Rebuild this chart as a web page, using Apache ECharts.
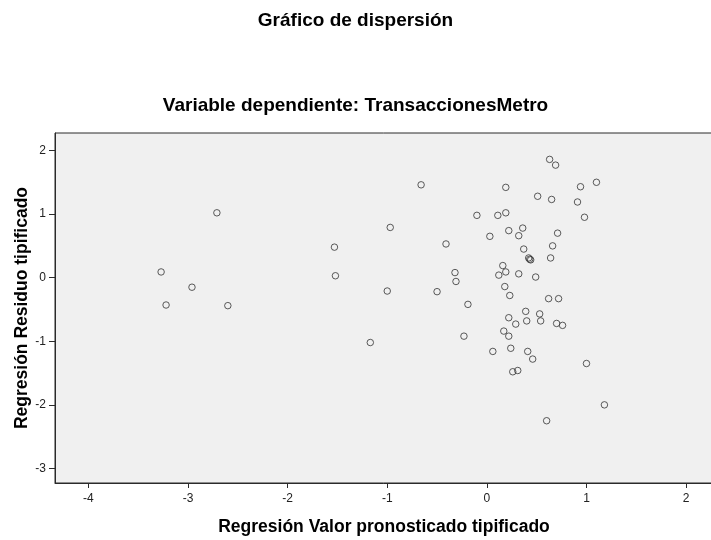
<!DOCTYPE html>
<html>
<head>
<meta charset="utf-8">
<script src="https://cdn.jsdelivr.net/npm/echarts@6/dist/echarts.min.js"></script>
<style>
  html, body { margin: 0; padding: 0; background: #ffffff; }
  #chart { width: 711px; height: 540px; }
</style>
</head>
<body>
<div id="chart"></div>
<script>
// Standardized predicted values (x) and standardized residuals (y), one entry per case
const predicted = [
  -2.71, -3.27, -3.22, -2.96, -2.60, -1.53, -1.52, -0.66, -0.97, -0.41,
  -1.00, -0.50, -0.32, -0.31, -0.19, -0.10, 0.03, 0.11, 0.19, 0.19,
  0.22, 0.36, 0.32, 0.37, 0.42, 0.44, 0.43, 0.16, 0.12, 0.19,
  0.32, 0.49, 0.18, 0.23, 0.63, 0.69, 0.51, 0.65, 0.94, 1.10,
  0.91, 0.98, 0.71, 0.66, 0.64, 0.62, 0.72, -1.17, -0.23, 0.06,
  0.22, 0.29, 0.39, 0.40, 0.53, 0.54, 0.70, 0.76, 0.17, 0.22,
  0.24, 0.41, 0.46, 0.26, 0.31, 1.00, 1.18, 0.60
];
const residual = [
  1.02, 0.09, -0.43, -0.15, -0.44, 0.48, 0.03, 1.46, 0.79, 0.53,
  -0.21, -0.22, 0.08, -0.06, -0.42, 0.98, 0.65, 0.98, 1.02, 1.42,
  0.74, 0.78, 0.66, 0.45, 0.31, 0.28, 0.29, 0.19, 0.04, 0.09,
  0.06, 0.01, -0.14, -0.28, 1.86, 1.77, 1.28, 1.23, 1.43, 1.50,
  1.19, 0.95, 0.70, 0.50, 0.31, -0.33, -0.33, -1.02, -0.92, -1.16,
  -0.63, -0.73, -0.53, -0.68, -0.57, -0.68, -0.72, -0.75, -0.84, -0.92,
  -1.11, -1.16, -1.28, -1.48, -1.46, -1.35, -2.00, -2.25
];
const xTicks = [-4, -3, -2, -1, 0, 1, 2];
const yTicks = [-3, -2, -1, 0, 1, 2];

const points = predicted.map((v, i) => [v, residual[i]]);

const FONT = "'Liberation Sans', Arial, sans-serif";
const chart = echarts.init(document.getElementById('chart'), null, { renderer: 'canvas' });

const axisCommon = {
  type: 'value',
  splitLine: { show: false },
  nameMoveOverlap: false,
  axisLine: { show: true, onZero: false, lineStyle: { color: '#2a2a2a', width: 1 } },
  axisTick: { show: true, inside: false, length: 5, lineStyle: { color: '#2a2a2a', width: 1 } },
  axisLabel: { color: '#222222', fontSize: 12, fontFamily: FONT },
  nameTextStyle: { color: '#000000', fontSize: 17.5, fontWeight: 'bold', fontFamily: FONT }
};

chart.setOption({
  animation: false,
  backgroundColor: '#ffffff',
  title: [
    {
      text: 'Gráfico de dispersión',
      left: 'center',
      top: 6,
      textStyle: { fontSize: 19, fontWeight: 'bold', color: '#000000', fontFamily: FONT }
    },
    {
      text: 'Variable dependiente: TransaccionesMetro',
      left: 'center',
      top: 91,
      textStyle: { fontSize: 19, fontWeight: 'bold', color: '#000000', fontFamily: FONT }
    }
  ],
  grid: {
    left: 55,
    right: -2,
    top: 133,
    bottom: 57,
    outerBoundsMode: 'none',
    containLabel: false,
    show: true,
    backgroundColor: '#f0f0f0',
    borderColor: '#2a2a2a',
    borderWidth: 1
  },
  xAxis: Object.assign({}, axisCommon, {
    min: -4.335,
    max: 2.27,
    name: 'Regresión Valor pronosticado tipificado',
    nameLocation: 'middle',
    nameGap: 35,
    axisTick: Object.assign({}, axisCommon.axisTick, { customValues: xTicks }),
    axisLabel: Object.assign({}, axisCommon.axisLabel, { customValues: xTicks, margin: 10 })
  }),
  yAxis: Object.assign({}, axisCommon, {
    min: -3.229,
    max: 2.275,
    name: 'Regresión Residuo tipificado',
    nameLocation: 'middle',
    nameGap: 24,
    axisTick: Object.assign({}, axisCommon.axisTick, { customValues: yTicks, length: 6 }),
    axisLabel: Object.assign({}, axisCommon.axisLabel, { customValues: yTicks, margin: 9 })
  }),
  series: [{
    type: 'scatter',
    data: points,
    symbol: 'circle',
    symbolSize: 6.5,
    itemStyle: { color: 'rgba(0,0,0,0)', borderColor: '#333333', borderWidth: 1 },
    emphasis: { disabled: true }
  }]
});
</script>
</body>
</html>
